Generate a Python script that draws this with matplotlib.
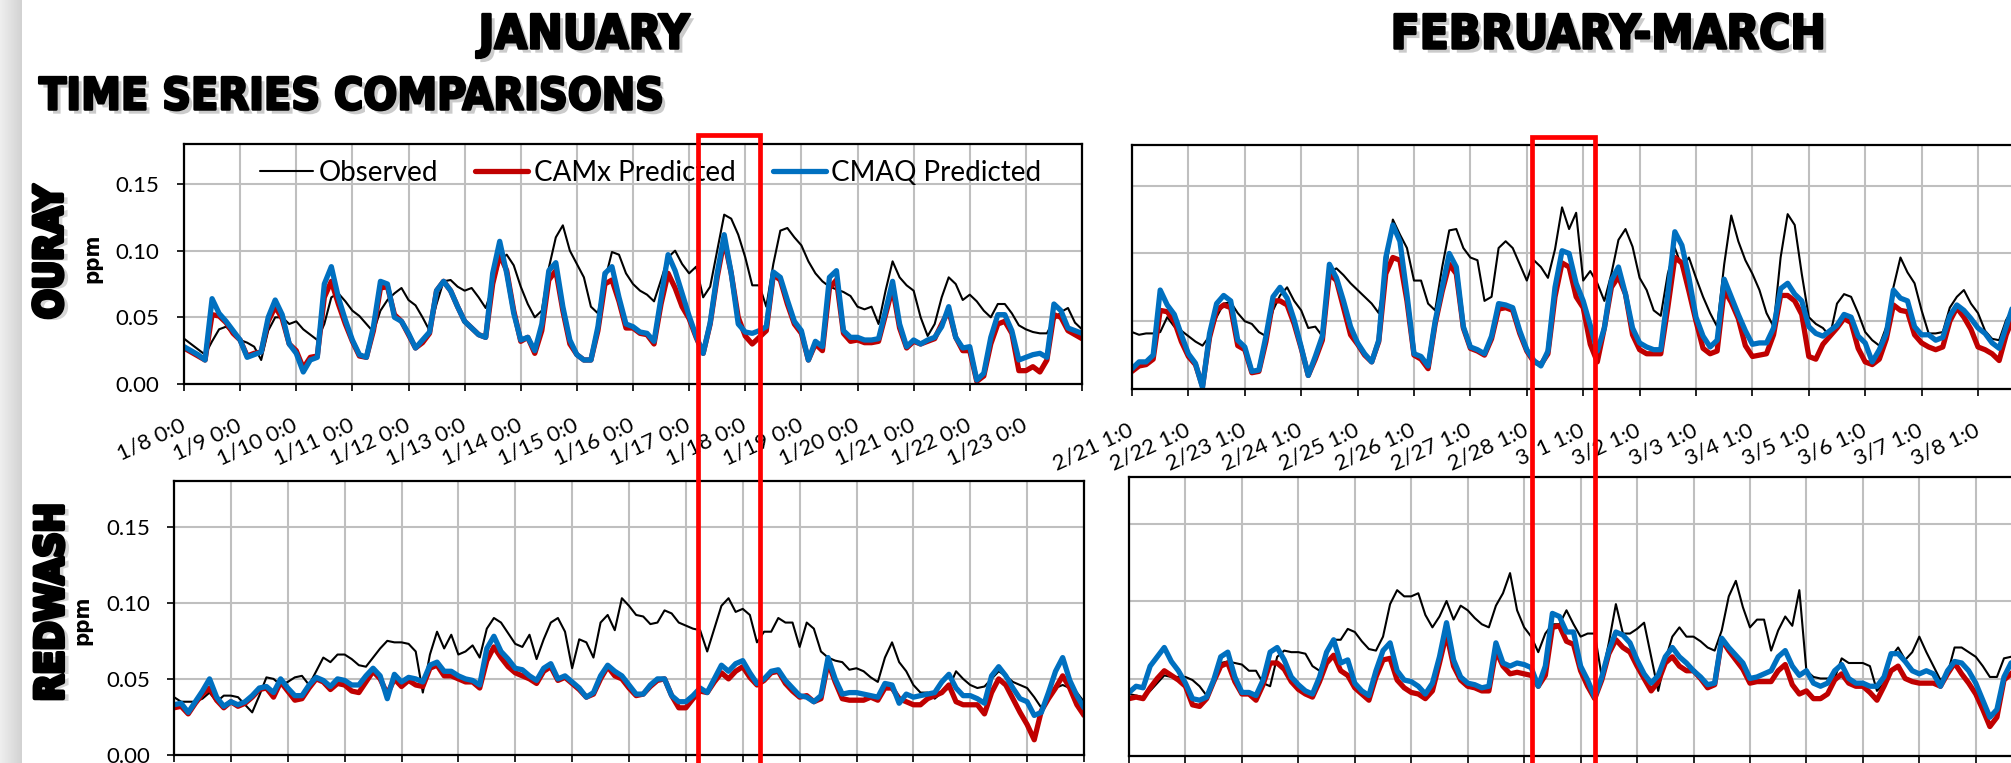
import numpy as np
import matplotlib
matplotlib.use("Agg")
import matplotlib.pyplot as plt
import matplotlib.patheffects as pe
from matplotlib.patches import Rectangle
from matplotlib.colors import LinearSegmentedColormap

plt.rcParams['font.family'] = ['Lato', 'DejaVu Sans']

# hourly ozone (ppm) read every 3 hours, 8 values per day
ouray_jan_obs = [
    0.034, 0.030, 0.026, 0.022, 0.032, 0.041, 0.043, 0.038,
    0.033, 0.031, 0.028, 0.018, 0.040, 0.050, 0.050, 0.045,
    0.047, 0.041, 0.037, 0.033, 0.045, 0.065, 0.068, 0.062,
    0.055, 0.051, 0.045, 0.039, 0.055, 0.063, 0.068, 0.072,
    0.063, 0.059, 0.050, 0.040, 0.060, 0.077, 0.078, 0.073,
    0.070, 0.072, 0.065, 0.057, 0.073, 0.093, 0.097, 0.089,
    0.073, 0.060, 0.050, 0.055, 0.087, 0.110, 0.119, 0.100,
    0.090, 0.080, 0.058, 0.053, 0.078, 0.099, 0.097, 0.083,
    0.075, 0.070, 0.067, 0.062, 0.078, 0.095, 0.100, 0.090,
    0.083, 0.088, 0.065, 0.073, 0.100, 0.127, 0.124, 0.112,
    0.095, 0.074, 0.074, 0.058, 0.090, 0.115, 0.117, 0.110,
    0.104, 0.092, 0.083, 0.077, 0.073, 0.071, 0.069, 0.066,
    0.058, 0.056, 0.058, 0.045, 0.070, 0.092, 0.080, 0.074,
    0.070, 0.050, 0.036, 0.045, 0.065, 0.080, 0.075, 0.063,
    0.067, 0.062, 0.055, 0.050, 0.060, 0.060, 0.053, 0.044,
    0.041, 0.039, 0.038, 0.038, 0.048, 0.054, 0.057, 0.046, 0.041]
ouray_jan_camx = [
    0.027, 0.024, 0.021, 0.018, 0.052, 0.051, 0.046, 0.038,
    0.033, 0.021, 0.023, 0.024, 0.047, 0.058, 0.049, 0.030,
    0.025, 0.012, 0.020, 0.021, 0.065, 0.077, 0.060, 0.045,
    0.032, 0.021, 0.020, 0.040, 0.072, 0.073, 0.052, 0.047,
    0.037, 0.027, 0.031, 0.038, 0.070, 0.077, 0.070, 0.058,
    0.047, 0.042, 0.037, 0.035, 0.075, 0.097, 0.085, 0.055,
    0.032, 0.035, 0.023, 0.040, 0.078, 0.085, 0.055, 0.030,
    0.022, 0.018, 0.018, 0.040, 0.075, 0.078, 0.062, 0.042,
    0.042, 0.038, 0.037, 0.030, 0.060, 0.083, 0.072, 0.058,
    0.049, 0.035, 0.023, 0.045, 0.080, 0.108, 0.083, 0.050,
    0.036, 0.030, 0.035, 0.040, 0.082, 0.078, 0.060, 0.045,
    0.038, 0.018, 0.030, 0.025, 0.072, 0.078, 0.038, 0.032,
    0.033, 0.031, 0.031, 0.032, 0.052, 0.072, 0.042, 0.027,
    0.032, 0.030, 0.032, 0.034, 0.045, 0.055, 0.035, 0.025,
    0.025, 0.002, 0.006, 0.030, 0.045, 0.047, 0.038, 0.010,
    0.010, 0.013, 0.009, 0.018, 0.052, 0.050, 0.040, 0.037, 0.034]
ouray_jan_cmaq = [
    0.028, 0.025, 0.022, 0.018, 0.064, 0.053, 0.047, 0.040,
    0.033, 0.020, 0.022, 0.024, 0.050, 0.063, 0.052, 0.030,
    0.023, 0.009, 0.018, 0.020, 0.075, 0.088, 0.065, 0.048,
    0.033, 0.022, 0.020, 0.043, 0.077, 0.075, 0.050, 0.047,
    0.038, 0.027, 0.033, 0.039, 0.070, 0.077, 0.070, 0.058,
    0.047, 0.042, 0.037, 0.035, 0.083, 0.107, 0.083, 0.053,
    0.033, 0.035, 0.025, 0.045, 0.085, 0.091, 0.058, 0.033,
    0.022, 0.018, 0.018, 0.043, 0.083, 0.088, 0.065, 0.045,
    0.043, 0.039, 0.038, 0.032, 0.065, 0.097, 0.085, 0.068,
    0.051, 0.036, 0.023, 0.046, 0.083, 0.112, 0.083, 0.045,
    0.039, 0.038, 0.040, 0.043, 0.084, 0.080, 0.063, 0.047,
    0.040, 0.018, 0.032, 0.028, 0.080, 0.085, 0.040, 0.035,
    0.035, 0.033, 0.033, 0.034, 0.055, 0.077, 0.045, 0.028,
    0.033, 0.030, 0.033, 0.035, 0.043, 0.058, 0.035, 0.027,
    0.028, 0.003, 0.008, 0.035, 0.052, 0.052, 0.040, 0.018,
    0.020, 0.022, 0.023, 0.020, 0.060, 0.055, 0.042, 0.040, 0.038]

ouray_fm_obs = [
    0.042, 0.040, 0.041, 0.041, 0.042, 0.053, 0.046, 0.043,
    0.039, 0.035, 0.032, 0.039, 0.053, 0.063, 0.064, 0.056,
    0.050, 0.048, 0.042, 0.039, 0.058, 0.069, 0.075, 0.065,
    0.058, 0.045, 0.046, 0.039, 0.086, 0.089, 0.084, 0.078,
    0.073, 0.068, 0.063, 0.056, 0.087, 0.125, 0.114, 0.104,
    0.080, 0.080, 0.063, 0.058, 0.090, 0.117, 0.118, 0.104,
    0.097, 0.095, 0.065, 0.068, 0.104, 0.109, 0.104, 0.092,
    0.080, 0.095, 0.090, 0.082, 0.103, 0.134, 0.118, 0.130,
    0.080, 0.087, 0.078, 0.065, 0.085, 0.110, 0.118, 0.105,
    0.082, 0.073, 0.058, 0.054, 0.085, 0.104, 0.090, 0.097,
    0.082, 0.068, 0.056, 0.046, 0.092, 0.128, 0.109, 0.095,
    0.085, 0.073, 0.056, 0.046, 0.097, 0.129, 0.121, 0.085,
    0.053, 0.048, 0.045, 0.039, 0.063, 0.070, 0.068, 0.056,
    0.042, 0.036, 0.032, 0.046, 0.075, 0.097, 0.086, 0.078,
    0.058, 0.041, 0.041, 0.042, 0.060, 0.068, 0.073, 0.063,
    0.056, 0.043, 0.037, 0.036, 0.051, 0.060, 0.062]
ouray_fm_camx = [
    0.013, 0.017, 0.018, 0.022, 0.058, 0.057, 0.050, 0.035,
    0.024, 0.018, 0.002, 0.038, 0.058, 0.062, 0.060, 0.032,
    0.029, 0.012, 0.013, 0.035, 0.065, 0.065, 0.062, 0.048,
    0.030, 0.010, 0.022, 0.036, 0.085, 0.080, 0.060, 0.040,
    0.033, 0.025, 0.020, 0.035, 0.085, 0.097, 0.095, 0.065,
    0.025, 0.022, 0.015, 0.048, 0.072, 0.092, 0.085, 0.045,
    0.030, 0.028, 0.025, 0.037, 0.059, 0.060, 0.058, 0.041,
    0.028, 0.020, 0.018, 0.026, 0.068, 0.093, 0.090, 0.068,
    0.060, 0.033, 0.020, 0.045, 0.075, 0.083, 0.070, 0.040,
    0.029, 0.026, 0.026, 0.026, 0.060, 0.097, 0.093, 0.072,
    0.050, 0.030, 0.026, 0.028, 0.073, 0.064, 0.052, 0.032,
    0.024, 0.025, 0.026, 0.040, 0.069, 0.069, 0.065, 0.055,
    0.024, 0.022, 0.033, 0.039, 0.045, 0.052, 0.049, 0.030,
    0.020, 0.018, 0.022, 0.037, 0.062, 0.058, 0.057, 0.040,
    0.034, 0.031, 0.029, 0.031, 0.050, 0.060, 0.053, 0.044,
    0.031, 0.029, 0.026, 0.021, 0.040, 0.053, 0.058]
ouray_fm_cmaq = [
    0.015, 0.020, 0.020, 0.025, 0.073, 0.062, 0.055, 0.040,
    0.026, 0.019, 0.001, 0.041, 0.063, 0.069, 0.065, 0.036,
    0.031, 0.013, 0.014, 0.039, 0.068, 0.075, 0.067, 0.051,
    0.031, 0.010, 0.024, 0.039, 0.092, 0.082, 0.065, 0.046,
    0.034, 0.026, 0.020, 0.036, 0.097, 0.121, 0.109, 0.070,
    0.026, 0.024, 0.017, 0.050, 0.075, 0.100, 0.090, 0.046,
    0.031, 0.029, 0.026, 0.039, 0.063, 0.062, 0.060, 0.043,
    0.029, 0.021, 0.017, 0.028, 0.075, 0.102, 0.100, 0.078,
    0.065, 0.047, 0.028, 0.045, 0.080, 0.090, 0.070, 0.045,
    0.034, 0.031, 0.029, 0.029, 0.070, 0.116, 0.106, 0.082,
    0.053, 0.039, 0.031, 0.036, 0.081, 0.068, 0.055, 0.043,
    0.033, 0.034, 0.034, 0.045, 0.074, 0.078, 0.070, 0.065,
    0.046, 0.041, 0.039, 0.043, 0.047, 0.055, 0.053, 0.039,
    0.034, 0.020, 0.029, 0.041, 0.073, 0.067, 0.065, 0.046,
    0.040, 0.040, 0.036, 0.038, 0.054, 0.062, 0.058, 0.052,
    0.045, 0.041, 0.034, 0.030, 0.046, 0.062, 0.066]

redwash_jan_obs = [
    0.038, 0.035, 0.035, 0.035, 0.037, 0.041, 0.035, 0.039,
    0.039, 0.038, 0.033, 0.028, 0.039, 0.051, 0.050, 0.046,
    0.048, 0.051, 0.052, 0.046, 0.055, 0.064, 0.061, 0.066,
    0.066, 0.063, 0.059, 0.058, 0.064, 0.070, 0.075, 0.074,
    0.074, 0.073, 0.068, 0.041, 0.066, 0.081, 0.070, 0.079,
    0.066, 0.068, 0.072, 0.064, 0.083, 0.090, 0.087, 0.080,
    0.073, 0.071, 0.079, 0.063, 0.076, 0.087, 0.090, 0.081,
    0.057, 0.076, 0.074, 0.064, 0.087, 0.092, 0.082, 0.103,
    0.098, 0.092, 0.091, 0.086, 0.087, 0.095, 0.093, 0.087,
    0.085, 0.083, 0.082, 0.068, 0.083, 0.098, 0.103, 0.094,
    0.096, 0.092, 0.074, 0.081, 0.081, 0.090, 0.087, 0.087,
    0.071, 0.087, 0.083, 0.068, 0.064, 0.062, 0.061, 0.056,
    0.057, 0.055, 0.051, 0.048, 0.064, 0.074, 0.061, 0.055,
    0.046, 0.041, 0.041, 0.037, 0.041, 0.044, 0.055, 0.050,
    0.046, 0.044, 0.045, 0.050, 0.055, 0.052, 0.048, 0.046,
    0.044, 0.038, 0.031, 0.039, 0.044, 0.046, 0.044, 0.041, 0.035]
redwash_jan_camx = [
    0.031, 0.032, 0.027, 0.034, 0.040, 0.044, 0.036, 0.031,
    0.035, 0.032, 0.034, 0.038, 0.043, 0.044, 0.038, 0.048,
    0.042, 0.036, 0.037, 0.044, 0.050, 0.048, 0.043, 0.047,
    0.046, 0.042, 0.041, 0.048, 0.055, 0.050, 0.040, 0.050,
    0.045, 0.049, 0.046, 0.045, 0.057, 0.059, 0.052, 0.052,
    0.050, 0.048, 0.048, 0.044, 0.062, 0.071, 0.064, 0.058,
    0.054, 0.052, 0.050, 0.047, 0.055, 0.058, 0.049, 0.051,
    0.047, 0.043, 0.038, 0.040, 0.050, 0.058, 0.052, 0.050,
    0.044, 0.039, 0.040, 0.045, 0.049, 0.050, 0.039, 0.031,
    0.031, 0.037, 0.042, 0.041, 0.048, 0.054, 0.050, 0.055,
    0.058, 0.051, 0.046, 0.049, 0.054, 0.055, 0.047, 0.042,
    0.038, 0.039, 0.035, 0.037, 0.061, 0.048, 0.037, 0.036,
    0.036, 0.036, 0.038, 0.036, 0.044, 0.044, 0.037, 0.035,
    0.033, 0.033, 0.037, 0.039, 0.041, 0.046, 0.035, 0.033,
    0.033, 0.033, 0.027, 0.041, 0.050, 0.046, 0.037, 0.028,
    0.020, 0.010, 0.029, 0.037, 0.044, 0.052, 0.044, 0.033, 0.026]
redwash_jan_cmaq = [
    0.033, 0.034, 0.028, 0.035, 0.042, 0.050, 0.038, 0.032,
    0.035, 0.033, 0.035, 0.039, 0.044, 0.045, 0.041, 0.050,
    0.044, 0.039, 0.039, 0.046, 0.051, 0.049, 0.045, 0.050,
    0.049, 0.046, 0.046, 0.052, 0.057, 0.052, 0.037, 0.053,
    0.048, 0.051, 0.050, 0.048, 0.059, 0.061, 0.055, 0.055,
    0.052, 0.050, 0.049, 0.046, 0.070, 0.078, 0.068, 0.063,
    0.057, 0.056, 0.052, 0.049, 0.057, 0.060, 0.050, 0.052,
    0.048, 0.044, 0.038, 0.041, 0.052, 0.059, 0.055, 0.052,
    0.046, 0.040, 0.040, 0.046, 0.050, 0.050, 0.039, 0.035,
    0.035, 0.039, 0.044, 0.041, 0.050, 0.059, 0.055, 0.060,
    0.062, 0.054, 0.047, 0.050, 0.055, 0.056, 0.049, 0.044,
    0.039, 0.038, 0.035, 0.039, 0.064, 0.050, 0.040, 0.041,
    0.041, 0.040, 0.039, 0.038, 0.047, 0.046, 0.034, 0.040,
    0.038, 0.039, 0.040, 0.041, 0.048, 0.053, 0.044, 0.039,
    0.039, 0.037, 0.034, 0.052, 0.058, 0.052, 0.044, 0.037,
    0.035, 0.026, 0.028, 0.041, 0.055, 0.064, 0.049, 0.039, 0.031]

redwash_fm_obs = [
    0.040, 0.039, 0.038, 0.042, 0.047, 0.052, 0.051, 0.051,
    0.051, 0.049, 0.045, 0.039, 0.047, 0.060, 0.061, 0.060,
    0.059, 0.055, 0.055, 0.047, 0.045, 0.064, 0.068, 0.067,
    0.067, 0.066, 0.058, 0.055, 0.067, 0.075, 0.075, 0.082,
    0.080, 0.074, 0.069, 0.068, 0.077, 0.098, 0.107, 0.103,
    0.103, 0.105, 0.091, 0.083, 0.090, 0.100, 0.088, 0.097,
    0.094, 0.089, 0.085, 0.083, 0.097, 0.105, 0.118, 0.094,
    0.083, 0.077, 0.067, 0.079, 0.085, 0.085, 0.094, 0.085,
    0.077, 0.079, 0.079, 0.051, 0.073, 0.098, 0.079, 0.079,
    0.082, 0.086, 0.064, 0.042, 0.062, 0.077, 0.083, 0.077,
    0.077, 0.074, 0.070, 0.068, 0.081, 0.103, 0.113, 0.096,
    0.083, 0.088, 0.088, 0.068, 0.081, 0.090, 0.084, 0.107,
    0.055, 0.051, 0.050, 0.050, 0.050, 0.063, 0.060, 0.060,
    0.060, 0.058, 0.042, 0.047, 0.064, 0.070, 0.062, 0.067,
    0.077, 0.067, 0.058, 0.049, 0.053, 0.070, 0.070, 0.067,
    0.064, 0.058, 0.051, 0.051, 0.063, 0.064, 0.066]
redwash_fm_camx = [
    0.037, 0.038, 0.037, 0.044, 0.050, 0.055, 0.052, 0.049,
    0.045, 0.033, 0.032, 0.037, 0.048, 0.058, 0.060, 0.048,
    0.040, 0.040, 0.036, 0.046, 0.060, 0.060, 0.056, 0.048,
    0.043, 0.040, 0.038, 0.048, 0.060, 0.065, 0.055, 0.052,
    0.044, 0.040, 0.036, 0.051, 0.062, 0.063, 0.049, 0.044,
    0.041, 0.040, 0.037, 0.042, 0.060, 0.079, 0.058, 0.049,
    0.045, 0.044, 0.042, 0.042, 0.068, 0.058, 0.053, 0.054,
    0.053, 0.052, 0.045, 0.052, 0.083, 0.084, 0.074, 0.072,
    0.055, 0.045, 0.037, 0.049, 0.066, 0.075, 0.070, 0.067,
    0.058, 0.050, 0.042, 0.048, 0.060, 0.064, 0.058, 0.055,
    0.055, 0.050, 0.044, 0.046, 0.075, 0.068, 0.062, 0.056,
    0.047, 0.048, 0.048, 0.048, 0.055, 0.059, 0.046, 0.040,
    0.042, 0.037, 0.037, 0.040, 0.049, 0.053, 0.047, 0.045,
    0.045, 0.041, 0.036, 0.045, 0.055, 0.058, 0.050, 0.048,
    0.047, 0.047, 0.047, 0.045, 0.053, 0.060, 0.053, 0.047,
    0.040, 0.030, 0.019, 0.025, 0.049, 0.053, 0.058]
redwash_fm_cmaq = [
    0.041, 0.045, 0.044, 0.058, 0.064, 0.070, 0.061, 0.055,
    0.047, 0.037, 0.036, 0.038, 0.049, 0.064, 0.067, 0.051,
    0.041, 0.041, 0.039, 0.049, 0.067, 0.070, 0.062, 0.051,
    0.046, 0.042, 0.040, 0.051, 0.067, 0.075, 0.060, 0.062,
    0.047, 0.042, 0.039, 0.055, 0.068, 0.073, 0.055, 0.049,
    0.048, 0.045, 0.040, 0.047, 0.064, 0.086, 0.062, 0.051,
    0.047, 0.046, 0.044, 0.045, 0.073, 0.060, 0.058, 0.060,
    0.059, 0.057, 0.045, 0.058, 0.092, 0.090, 0.080, 0.080,
    0.058, 0.049, 0.038, 0.051, 0.068, 0.080, 0.078, 0.073,
    0.062, 0.053, 0.047, 0.052, 0.064, 0.070, 0.064, 0.060,
    0.055, 0.051, 0.046, 0.047, 0.076, 0.070, 0.065, 0.060,
    0.050, 0.051, 0.053, 0.055, 0.064, 0.068, 0.058, 0.052,
    0.055, 0.047, 0.045, 0.047, 0.055, 0.059, 0.050, 0.047,
    0.047, 0.045, 0.045, 0.051, 0.066, 0.066, 0.061, 0.055,
    0.053, 0.055, 0.053, 0.045, 0.055, 0.061, 0.060, 0.055,
    0.047, 0.036, 0.025, 0.030, 0.051, 0.060, 0.062]

jan_labels = ['1/%d 0:0' % d for d in range(8, 24)]
febmar_labels = ['2/%d 1:0' % d for d in range(21, 29)] + ['3/%d 1:0' % d for d in range(1, 9)]
yticks = [0.0, 0.05, 0.10, 0.15]

W, H = 2011, 763
fig = plt.figure(figsize=(W / 100, H / 100), dpi=100)


def px_axes(left, top, right, bottom):
    return fig.add_axes([left / W, 1 - bottom / H, (right - left) / W, (bottom - top) / H])


# grey strip at the left edge
strip = fig.add_axes([0, 0, 22 / W, 1])
cmap = LinearSegmentedColormap.from_list('strip', ['#efefef', '#d2d2d2'])
strip.imshow(np.linspace(0, 1, 50)[None, :], aspect='auto', cmap=cmap)
strip.axis('off')


def draw_panel(ax, obs, camx, cmaq, labels, show_y, ypad):
    for vals, color, lw, name in ((obs, 'black', 1.5, 'Observed'),
                                  (camx, '#C00000', 3.8, 'CAMx Predicted'),
                                  (cmaq, '#0070C0', 3.8, 'CMAQ Predicted')):
        t = np.arange(len(vals)) * 3 / 24
        ax.plot(t, vals, color=color, lw=lw, label=name,
                solid_joinstyle='round', solid_capstyle='round')
    ax.set_xlim(0, 16)
    ax.set_ylim(0, 0.18)
    ax.set_xticks(np.arange(17))
    if labels:
        ax.set_xticklabels(labels + [''], rotation=25, ha='right', va='center',
                           rotation_mode='anchor', fontsize=16)
    else:
        ax.set_xticklabels([])
    ax.set_yticks(yticks)
    ax.grid(True, color='#BFBFBF', lw=1.5)
    ax.set_axisbelow(True)
    for s in ax.spines.values():
        s.set_color('black')
        s.set_linewidth(1.6)
    ax.tick_params(axis='x', direction='out', length=5, width=1.2, pad=24)
    if show_y:
        ax.set_yticklabels(['%.2f' % v for v in yticks], fontsize=16)
        ax.tick_params(axis='y', direction='out', length=5, width=1.2, pad=ypad)
    else:
        ax.set_yticklabels([])
        ax.tick_params(axis='y', length=0)


ax_tl = px_axes(184, 144, 1082, 384)
ax_tr = px_axes(1132, 145, 1132 + 16 * 56.4, 389)
ax_bl = px_axes(174, 481, 1084, 755)
ax_br = px_axes(1129, 477, 1129 + 16 * 56.45, 756)

draw_panel(ax_tl, ouray_jan_obs, ouray_jan_camx, ouray_jan_cmaq, jan_labels, True, 13)
draw_panel(ax_tr, ouray_fm_obs, ouray_fm_camx, ouray_fm_cmaq, febmar_labels, False, 0)
# the bottom row's date labels fall below the picture, so none are drawn
draw_panel(ax_bl, redwash_jan_obs, redwash_jan_camx, redwash_jan_cmaq, None, True, 12)
draw_panel(ax_br, redwash_fm_obs, redwash_fm_camx, redwash_fm_cmaq, None, False, 0)

ax_tl.legend(loc='center left', bbox_to_anchor=((260 - 184) / 898, (384 - 173) / 240),
             ncol=3, frameon=False, fontsize=20, handlelength=1.9, handletextpad=0.2,
             columnspacing=1.35, borderaxespad=0, borderpad=0)

# titles
shadow = [pe.withSimplePatchShadow(offset=(3, -3), shadow_rgbFace='0.55', alpha=0.45),
          pe.withStroke(linewidth=1.8, foreground='black')]
title_kw = dict(family='DejaVu Sans', fontweight='bold', fontstretch='condensed',
                color='black', path_effects=shadow)
fig.text(584 / W, 1 - 36 / H, 'JANUARY', ha='center', va='center', fontsize=34, **title_kw)
fig.text(1608 / W, 1 - 36 / H, 'FEBRUARY-MARCH', ha='center', va='center', fontsize=34, **title_kw)
fig.text(39 / W, 1 - 97 / H, 'TIME SERIES COMPARISONS', ha='left', va='center',
         fontsize=32, **title_kw)

station_kw = dict(family='DejaVu Sans', fontweight='bold', fontstretch='condensed',
                  fontsize=28, rotation=90, ha='center', va='center',
                  path_effects=[pe.withSimplePatchShadow(offset=(4, -2), shadow_rgbFace='0.6', alpha=0.4),
                                pe.withStroke(linewidth=3, foreground='black')])
fig.text(51 / W, 1 - 252 / H, 'OURAY', **station_kw)
fig.text(52 / W, 1 - 602 / H, 'REDWASH', **station_kw)
ppm_kw = dict(family='DejaVu Sans', fontweight='bold', fontstretch='condensed',
              fontsize=16, rotation=90, ha='center', va='center')
fig.text(92 / W, 1 - 258 / H, 'ppm', **ppm_kw)
fig.text(82 / W, 1 - 620 / H, 'ppm', **ppm_kw)

# red highlight boxes running off the bottom
for x0, x1, top in ((698, 760, 135), (1532, 1595, 137)):
    fig.add_artist(Rectangle((x0 / W, -20 / H), (x1 - x0) / W, (H - top + 20) / H,
                             transform=fig.transFigure, fill=False, edgecolor='#FF0000',
                             lw=3.4, clip_on=False, zorder=10))

fig.savefig('out.png', dpi=100)
